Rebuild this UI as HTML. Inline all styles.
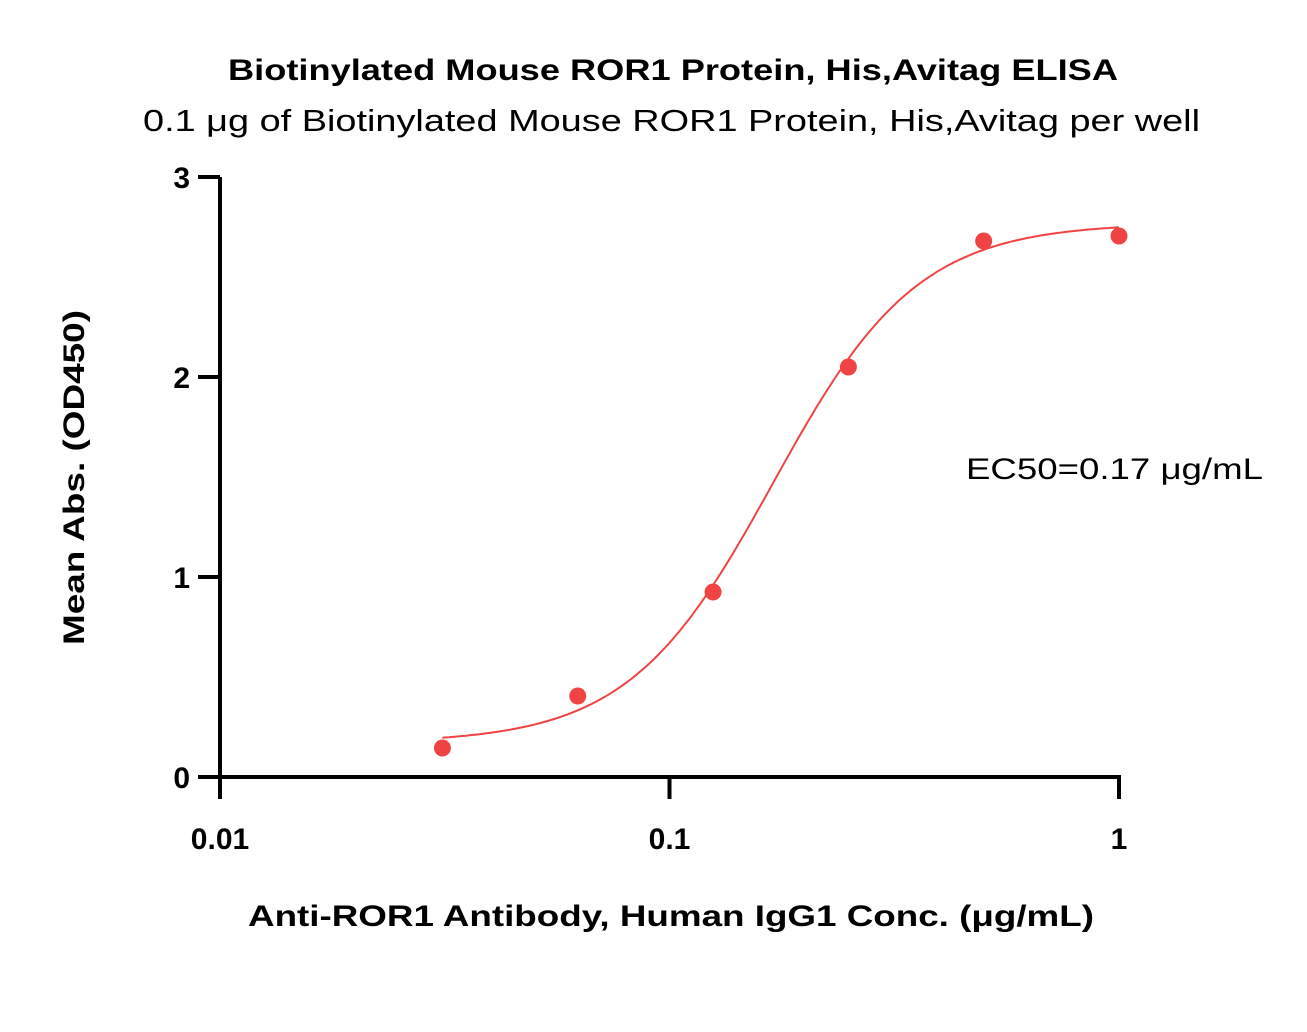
<!DOCTYPE html>
<html><head><meta charset="utf-8"><style>
body{margin:0;background:#fff}
svg{display:block;font-family:"Liberation Sans",sans-serif}
</style></head><body>
<svg width="1307" height="1032" viewBox="0 0 1307 1032">
<text x="228" y="80" textLength="890" lengthAdjust="spacingAndGlyphs" font-size="30" font-weight="bold">Biotinylated Mouse ROR1 Protein, His,Avitag ELISA</text>
<text x="143" y="131" textLength="1057" lengthAdjust="spacingAndGlyphs" font-size="31">0.1 μg of Biotinylated Mouse ROR1 Protein, His,Avitag per well</text>
<g id="axes"></g>
<g id="curve"></g>
<g id="points"></g>
<text x="966" y="479" textLength="297" lengthAdjust="spacingAndGlyphs" font-size="30">EC50=0.17 μg/mL</text>
<text x="248" y="926" textLength="846" lengthAdjust="spacingAndGlyphs" font-size="30" font-weight="bold">Anti-ROR1 Antibody, Human IgG1 Conc. (μg/mL)</text>
<text transform="translate(84,645) rotate(-90)" textLength="335" lengthAdjust="spacingAndGlyphs" font-size="30" font-weight="bold">Mean Abs. (OD450)</text>
</svg>
<script>
const concs=[0.03125,0.0625,0.125,0.25,0.5,1];
const values=[0.145,0.405,0.925,2.05,2.68,2.705];
const xTicks=[0.01,0.1,1];
const xTickLabels=["0.01","0.1","1"];
const yTicks=[0,1,2,3];
const yTickLabels=["0","1","2","3"];
const fitBottom=0.17, fitTop=2.77, fitEC50=0.17, fitHill=2.7;
const NS="http://www.w3.org/2000/svg";
const X0=220,X1=1119,Y0=777,Y1=177;
function sx(v){return X0+(Math.log10(v)-(-2))/2*(X1-X0);}
function sy(v){return Y0-(v/3)*(Y0-Y1);}
function mk(t,a,p){const e=document.createElementNS(NS,t);for(const k in a)e.setAttribute(k,a[k]);p.appendChild(e);return e;}
const ax=document.getElementById('axes');
let l=mk('line',{x1:X0,y1:Y1,x2:X0,y2:Y0+1.5,stroke:'#000','stroke-width':4},ax);


l=mk('line',{x1:X0-2,y1:Y0,x2:X1+2,y2:Y0,stroke:'#000','stroke-width':4},ax);


yTicks.forEach((v,i)=>{
 const t=mk('line',{x1:X0-22,y1:sy(v),x2:X0,y2:sy(v),stroke:'#000','stroke-width':4},ax);
 
 
 const tx=mk('text',{x:X0-30,y:sy(v)+11,'text-anchor':'end','font-size':30,'font-weight':'bold'},ax);
 tx.textContent=yTickLabels[i];
 
 
});
xTicks.forEach((v,i)=>{
 const t=mk('line',{x1:sx(v),y1:Y0,x2:sx(v),y2:Y0+22,stroke:'#000','stroke-width':4},ax);
 
 
 const tx=mk('text',{x:sx(v),y:Y0+72,'text-anchor':'middle','font-size':30,'font-weight':'bold'},ax);
 tx.textContent=xTickLabels[i];
 
 
});
let d='';
const lo=Math.log10(concs[0]),hi=Math.log10(concs[concs.length-1]);
for(let i=0;i<=200;i++){const lx=lo+(hi-lo)*i/200,c=Math.pow(10,lx);
 const y=fitBottom+(fitTop-fitBottom)/(1+Math.pow(fitEC50/c,fitHill));
 d+=(i?'L':'M')+sx(c).toFixed(1)+','+sy(y).toFixed(1);}
const p=mk('path',{d:d,fill:'none',stroke:'#f04444','stroke-width':2},document.getElementById('curve'));


const pg=document.getElementById('points');
concs.forEach((c,i)=>{
 const e=mk('circle',{cx:sx(c),cy:sy(values[i]),r:8.5,fill:'#f04444'},pg);
 
 
});
</script>
</body></html>
